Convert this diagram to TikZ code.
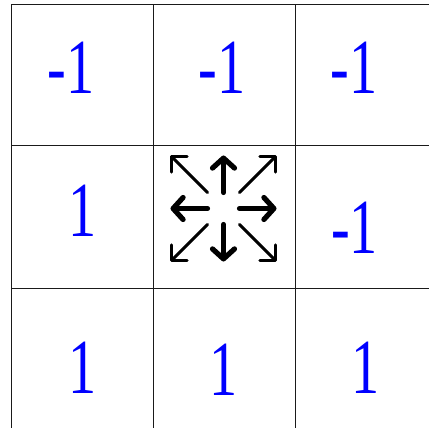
\documentclass[tikz,border=0pt]{standalone}
\usepackage{fontspec}
\setmainfont{Liberation Serif}
\newfontfamily\valfont[FakeStretch=0.72]{Liberation Serif}
\usepackage{xcolor}
\usetikzlibrary{arrows.meta}
\definecolor{valblue}{HTML}{0000FF}
\definecolor{gridink}{HTML}{1A1A1A}
\tikzset{
  gridline/.style={draw=gridink,line width=1pt},
  cellval/.style={font=\valfont\fontsize{78}{80}\selectfont,text=valblue,anchor=base,inner sep=0pt},
  mainarrow/.style={line width=5.2pt,line cap=round,
    -{Straight Barb[length=10pt,width=22pt,line cap=round,line join=round]}},
  diagarrow/.style={line width=3pt,line cap=round,
    -{Straight Barb[length=11pt,width=22pt,line cap=round,line join=round]}}
}
\begin{document}
\begin{tikzpicture}[x=1pt,y=-1pt]
  \useasboundingbox (0,0) rectangle (429,428);

  % grid, cut by the page on the right and at the bottom
  \foreach \x in {11,153,295}
    \draw[gridline] (\x,5) -- (\x,428);
  \foreach \y in {5,146,288}
    \draw[gridline] (11,\y) -- (429,\y);

  \node[cellval] (c11) at (71,94) {-1};
  \node[cellval] (c12) at (222,94) {-1};
  \node[cellval] (c13) at (354,94) {-1};
  \node[cellval] (c21) at (82.5,236) {1};
  \node[cellval] (c23) at (354.5,253) {-1};
  \node[cellval] (c31) at (82.5,393) {1};
  \node[cellval] (c32) at (223.5,395) {1};
  \node[cellval] (c33) at (366,393) {1};

  % move icon in the centre cell
  \coordinate (hub) at (223.5,208.5);
  \foreach \dx/\dy in {0/-1,0/1,-1/0,1/0}
    \draw[mainarrow] ([shift={(16*\dx,16*\dy)}]hub) -- ([shift={(53*\dx,53*\dy)}]hub);
  \foreach \dx/\dy in {-1/-1,1/-1,-1/1,1/1}
    \draw[diagarrow] ([shift={(16*\dx,16*\dy)}]hub) -- ([shift={(53*\dx,53*\dy)}]hub);
\end{tikzpicture}
\end{document}
